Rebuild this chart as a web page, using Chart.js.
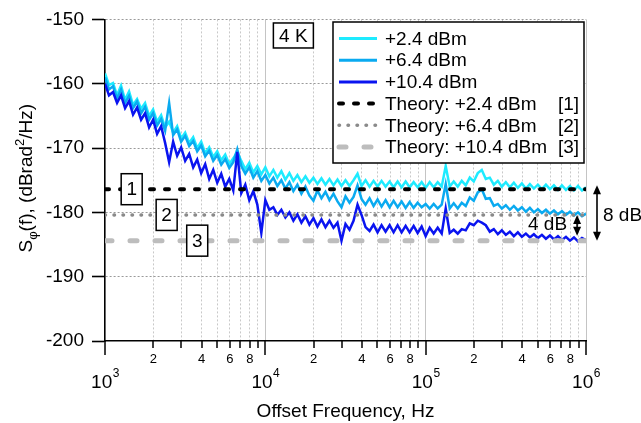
<!DOCTYPE html>
<html>
<head>
<meta charset="utf-8">
<script src="https://cdn.jsdelivr.net/npm/chart.js"></script>
<style>
html,body{margin:0;padding:0;background:#fff;}
canvas{display:block;}
</style>
</head>
<body>
<canvas id="c" width="641" height="423"></canvas>
<script>
const FONT = '"Liberation Sans", Arial, Helvetica, sans-serif';

// ---- data ----
const freqHz = [
  1000, 1059, 1122, 1189, 1259, 1334, 1413, 1496, 1585, 1679, 1778, 1884, 1995, 2113, 2239, 2371, 2512, 2661, 2818, 2985,
  3162, 3350, 3548, 3758, 3981, 4217, 4467, 4732, 5012, 5309, 5623, 5957, 6310, 6683, 7079, 7499, 7943, 8414, 8913, 9441,
  10000, 10593, 11220, 11885, 12589, 13335, 14125, 14962, 15849, 16788, 17783, 18836, 19953, 21135, 22387, 23714, 25119, 26607, 28184, 29854,
  31623, 33497, 35481, 37584, 39811, 42170, 44668, 47315, 50119, 53088, 56234, 59566, 63096, 66834, 70795, 74989, 79433, 84140, 89125, 94406,
  100000, 105930, 112200, 118850, 125890, 133350, 141250, 149620, 158490, 167880, 177830, 188360, 199530, 211350, 223870, 237140, 251190, 266070, 281840, 298540,
  316230, 334970, 354810, 375840, 398110, 421700, 446680, 473150, 501190, 530880, 562340, 595660, 630960, 668340, 707950, 749890, 794330, 841400, 891250, 944060,
  1000000
];

const psdP2_4 = [
  -158.4, -160.2, -159.9, -161.8, -160.3, -162.5, -161.2, -163.3, -162.4, -163.9,
  -163.0, -165.0, -164.0, -165.9, -164.9, -166.8, -165.9, -167.6, -166.6, -168.5,
  -167.6, -169.2, -168.3, -170.0, -169.0, -170.8, -169.9, -171.4, -170.5, -171.9,
  -171.0, -172.5, -171.6, -170.6, -172.0, -173.3, -172.3, -173.8, -172.8, -174.1,
  -173.0, -174.4, -173.4, -174.6, -173.6, -174.9, -173.9, -175.1, -174.2, -175.3,
  -174.4, -175.4, -174.6, -175.6, -174.7, -175.7, -174.8, -175.8, -174.9, -175.9,
  -175.0, -175.9, -175.0, -174.0, -175.9, -175.0, -176.0, -175.1, -176.0, -175.1,
  -176.0, -175.2, -176.1, -175.2, -176.1, -175.2, -176.1, -175.3, -176.1, -175.3,
  -176.2, -175.3, -176.1, -175.3, -176.0, -172.8, -176.0, -175.2, -176.0, -175.1,
  -175.8, -174.6, -175.2, -173.9, -173.4, -174.8, -174.6, -175.7, -175.1, -176.0,
  -175.3, -176.1, -175.4, -176.2, -175.5, -176.3, -175.6, -176.3, -175.7, -176.4,
  -175.7, -176.4, -175.8, -176.5, -175.8, -176.5, -175.9, -176.6, -175.9, -176.6, -176.1
];

const psdP6_4 = [
  -159.0, -160.9, -160.4, -162.3, -160.9, -163.0, -161.9, -163.8, -162.8, -164.6,
  -163.6, -165.6, -164.6, -166.5, -165.5, -167.3, -163.0, -168.0, -167.1, -169.0,
  -168.1, -169.7, -168.9, -170.5, -169.6, -171.3, -170.4, -172.0, -171.1, -172.6,
  -171.7, -173.1, -172.2, -170.2, -172.8, -174.0, -173.0, -174.6, -173.6, -175.1,
  -174.2, -175.5, -174.6, -175.9, -175.0, -176.3, -175.3, -176.7, -175.7, -177.1,
  -176.0, -177.4, -178.2, -176.6, -177.8, -176.8, -178.1, -177.1, -178.3, -179.2,
  -177.5, -178.5, -177.6, -175.8, -177.9, -178.8, -177.8, -179.0, -178.0, -179.1,
  -178.1, -179.2, -178.2, -179.2, -178.3, -179.3, -178.4, -179.3, -178.5, -179.2,
  -178.7, -179.4, -178.7, -179.4, -178.8, -175.6, -179.4, -178.6, -179.4, -178.5,
  -179.0, -177.7, -178.2, -176.9, -176.4, -177.9, -177.8, -179.0, -178.7, -179.4,
  -178.9, -179.6, -179.0, -179.7, -179.2, -179.9, -179.3, -180.0, -179.5, -180.1,
  -179.6, -180.2, -179.7, -180.3, -179.8, -180.4, -179.9, -180.5, -180.0, -180.6, -180.2
];

const psdP10_4 = [
  -160.0, -161.8, -161.3, -163.0, -161.8, -163.8, -162.7, -164.8, -163.7, -165.6,
  -164.6, -166.8, -165.6, -167.8, -166.6, -169.2, -172.2, -169.0, -171.2, -169.9,
  -172.0, -170.9, -173.0, -171.8, -173.9, -172.5, -174.8, -173.4, -175.4, -174.0,
  -176.0, -174.8, -176.6, -170.6, -177.0, -175.7, -178.1, -176.7, -178.8, -183.2,
  -178.1, -179.6, -179.2, -180.4, -179.6, -180.8, -180.0, -181.3, -180.3, -181.6,
  -180.6, -181.9, -180.9, -182.2, -181.1, -182.3, -181.3, -182.4, -181.6, -184.4,
  -181.8, -182.7, -181.3, -178.8, -180.4, -182.3, -182.9, -181.9, -183.1, -182.0,
  -183.0, -182.0, -183.1, -182.0, -183.1, -182.1, -183.1, -182.1, -183.2, -182.2,
  -183.7, -182.4, -183.3, -182.4, -183.3, -179.4, -183.2, -182.7, -183.3, -182.6,
  -182.8, -181.7, -182.0, -181.3, -181.6, -182.0, -183.0, -182.6, -183.4, -182.8,
  -183.5, -183.0, -183.7, -183.1, -183.8, -183.3, -183.9, -183.4, -184.0, -183.5,
  -184.1, -183.6, -184.2, -183.7, -184.3, -183.8, -184.4, -183.9, -184.5, -184.0, -184.3
];

const seriesLabels = ['+2.4 dBm', '+6.4 dBm', '+10.4 dBm'];
const theoryLabels = ['Theory: +2.4 dBm', 'Theory: +6.4 dBm', 'Theory: +10.4 dBm'];
const theoryRefs = ['[1]', '[2]', '[3]'];
const theoryLevels = [-176.4, -180.4, -184.4];
const theoryFreqRange = [1000, 1000000];
const boxTags = ['1', '2', '3'];
const boxFreqHz = [1467, 2424, 3760];
const tempLabel = '4 K';
const tempLabelAt = [14960, -152.5];
const arrowLabels = ['8 dB', '4 dB'];
const arrow4dBFreq = 880000;

const xTickValues = [
  1000, 2000, 3000, 4000, 5000, 6000, 7000, 8000, 9000,
  10000, 20000, 30000, 40000, 50000, 60000, 70000, 80000, 90000,
  100000, 200000, 300000, 400000, 500000, 600000, 700000, 800000, 900000,
  1000000
];
const xDecadeValues = [1000, 10000, 100000, 1000000];
const xDecadeExponents = ['3', '4', '5', '6'];
const xMinorLabelValues = [2000, 4000, 6000, 8000, 20000, 40000, 60000, 80000, 200000, 400000, 600000, 800000];
const xMinorLabelText = ['2', '4', '6', '8', '2', '4', '6', '8', '2', '4', '6', '8'];
const yTickValues = [-200, -190, -180, -170, -160, -150];
const xTitle = 'Offset Frequency, Hz';

// ---- styles ----
const curveColors = ['#1EEBFF', '#0AAAF0', '#0A14F0'];
const pts = arr => freqHz.map((f, i) => ({ x: f, y: arr[i] }));
const flat = lvl => theoryFreqRange.map(f => ({ x: f, y: lvl }));

const datasets = [
  { label: seriesLabels[0], data: pts(psdP2_4), borderColor: curveColors[0], borderWidth: 2.5, order: 3 },
  { label: seriesLabels[1], data: pts(psdP6_4), borderColor: curveColors[1], borderWidth: 2.5, order: 2 },
  { label: seriesLabels[2], data: pts(psdP10_4), borderColor: curveColors[2], borderWidth: 2.5, order: 1 },
  { label: theoryLabels[0], data: flat(theoryLevels[0]), borderColor: '#000000', borderWidth: 4, borderDash: [4, 11], borderCapStyle: 'round', order: 0 },
  { label: theoryLabels[1], data: flat(theoryLevels[1]), borderColor: '#8a8a8a', borderWidth: 3.5, borderDash: [0.5, 8.5], borderCapStyle: 'round', order: 0 },
  { label: theoryLabels[2], data: flat(theoryLevels[2]), borderColor: '#bdbdbd', borderWidth: 5, borderDash: [7, 18], borderCapStyle: 'round', order: 0 }
];
datasets.forEach(d => { d.pointRadius = 0; d.tension = 0; d.fill = false; });

function vArrow(ctx, x, y1, y2) {
  const h = 9, w = 4;
  ctx.beginPath(); ctx.moveTo(x, y1 + h - 1); ctx.lineTo(x, y2 - h + 1); ctx.stroke();
  ctx.beginPath(); ctx.moveTo(x, y1); ctx.lineTo(x - w, y1 + h); ctx.lineTo(x + w, y1 + h); ctx.closePath(); ctx.fill();
  ctx.beginPath(); ctx.moveTo(x, y2); ctx.lineTo(x - w, y2 - h); ctx.lineTo(x + w, y2 - h); ctx.closePath(); ctx.fill();
}

const overlay = {
  id: 'overlay',
  afterDraw(chart) {
    const ctx = chart.ctx, xs = chart.scales.x, ys = chart.scales.y, a = chart.chartArea;
    ctx.save();
    ctx.fillStyle = '#000'; ctx.strokeStyle = '#000';

    // x ticks
    ctx.lineWidth = 1.5;
    xTickValues.forEach(v => {
      const px = Math.round(xs.getPixelForValue(v));
      const major = xDecadeValues.includes(v);
      ctx.beginPath(); ctx.moveTo(px, a.bottom); ctx.lineTo(px, a.bottom + (major ? 14 : 7)); ctx.stroke();
    });
    ctx.textAlign = 'center'; ctx.textBaseline = 'alphabetic';
    ctx.font = '13px ' + FONT;
    xMinorLabelValues.forEach((v, i) => ctx.fillText(xMinorLabelText[i], xs.getPixelForValue(v), a.bottom + 22));
    ctx.textAlign = 'left';
    xDecadeValues.forEach((v, i) => {
      const px = xs.getPixelForValue(v);
      ctx.font = '19px ' + FONT; const w1 = ctx.measureText('10').width;
      ctx.font = '12px ' + FONT; const w2 = ctx.measureText(xDecadeExponents[i]).width;
      const x0 = px - (w1 + w2) / 2;
      ctx.font = '19px ' + FONT; ctx.fillText('10', x0, a.bottom + 47);
      ctx.font = '12px ' + FONT; ctx.fillText(xDecadeExponents[i], x0 + w1 + 0.5, a.bottom + 36);
    });

    // x title
    ctx.textAlign = 'center';
    ctx.font = '19px ' + FONT;
    ctx.fillText(xTitle, (a.left + a.right) / 2, a.bottom + 76);

    // y title (rotated, with sub/superscript)
    const parts = [
      { t: 'S', s: 19, dy: 0 }, { t: 'φ', s: 13, dy: 5 }, { t: '(f), (dBrad', s: 19, dy: 0 },
      { t: '2', s: 13, dy: -8 }, { t: '/Hz)', s: 19, dy: 0 }
    ];
    let tot = 0;
    parts.forEach(p => { ctx.font = p.s + 'px ' + FONT; p.w = ctx.measureText(p.t).width; tot += p.w; });
    ctx.save();
    ctx.translate(32, (a.top + a.bottom) / 2 - 2);
    ctx.rotate(-Math.PI / 2);
    ctx.textAlign = 'left';
    let u = -tot / 2;
    parts.forEach(p => { ctx.font = p.s + 'px ' + FONT; ctx.fillText(p.t, u, p.dy); u += p.w; });
    ctx.restore();

    // numbered boxes on the theory lines
    ctx.font = '19px ' + FONT; ctx.textAlign = 'center'; ctx.textBaseline = 'middle';
    boxTags.forEach((t, i) => {
      const cx = xs.getPixelForValue(boxFreqHz[i]), cy = ys.getPixelForValue(theoryLevels[i]);
      const bw = 21, bh = 31;
      ctx.fillStyle = '#fff'; ctx.fillRect(cx - bw / 2, cy - bh / 2, bw, bh);
      ctx.lineWidth = 1.5; ctx.strokeStyle = '#000'; ctx.strokeRect(cx - bw / 2, cy - bh / 2, bw, bh);
      ctx.fillStyle = '#000'; ctx.fillText(t, cx, cy + 1);
    });

    // 4 K box
    {
      const cx = xs.getPixelForValue(tempLabelAt[0]), cy = ys.getPixelForValue(tempLabelAt[1]);
      const bw = 40, bh = 25;
      ctx.fillStyle = '#fff'; ctx.fillRect(cx - bw / 2, cy - bh / 2, bw, bh);
      ctx.lineWidth = 1.5; ctx.strokeRect(cx - bw / 2, cy - bh / 2, bw, bh);
      ctx.fillStyle = '#000'; ctx.fillText(tempLabel, cx, cy + 1);
    }

    // legend
    {
      const lx = 333, ly = 22, lw = 251, lh = 141;
      ctx.fillStyle = '#fff'; ctx.fillRect(lx, ly, lw, lh);
      ctx.lineWidth = 1.5; ctx.strokeStyle = '#000'; ctx.strokeRect(lx, ly, lw, lh);
      const ds = chart.data.datasets;
      const labels = seriesLabels.concat(theoryLabels);
      labels.forEach((lab, k) => {
        const y = ly + 16.5 + k * 21.7;
        const d = ds[k];
        ctx.save();
        ctx.strokeStyle = d.borderColor;
        ctx.lineWidth = k < 3 ? 3 : d.borderWidth;
        ctx.lineCap = d.borderCapStyle || 'butt';
        ctx.setLineDash(d.borderDash || []);
        ctx.beginPath(); ctx.moveTo(lx + 6, y); ctx.lineTo(lx + 44, y); ctx.stroke();
        ctx.restore();
        ctx.fillStyle = '#000'; ctx.font = '19px ' + FONT; ctx.textBaseline = 'middle';
        ctx.textAlign = 'left'; ctx.fillText(lab, lx + 52, y + 1);
        if (k >= 3) { ctx.textAlign = 'right'; ctx.fillText(theoryRefs[k - 3], lx + lw - 5, y + 1); }
      });
    }

    // arrows
    ctx.fillStyle = '#000'; ctx.strokeStyle = '#000'; ctx.lineWidth = 1.6; ctx.setLineDash([]);
    const y1 = ys.getPixelForValue(theoryLevels[0]), y2 = ys.getPixelForValue(theoryLevels[1]), y3 = ys.getPixelForValue(theoryLevels[2]);
    const ax8 = a.right + 11;
    vArrow(ctx, ax8, y1 - 4, y3);
    ctx.font = '19px ' + FONT; ctx.textAlign = 'left'; ctx.textBaseline = 'middle';
    ctx.fillText(arrowLabels[0], ax8 + 6, (y1 + y3) / 2 + 1);
    const ax4 = xs.getPixelForValue(arrow4dBFreq);
    vArrow(ctx, ax4, y2, y3 - 5);
    ctx.textAlign = 'right';
    ctx.fillText(arrowLabels[1], ax4 - 10, (y2 + y3) / 2 - 3);
    ctx.restore();
  }
};

new Chart(document.getElementById('c').getContext('2d'), {
  type: 'line',
  data: { datasets },
  options: {
    responsive: false, animation: false, devicePixelRatio: 1,
    layout: { padding: { left: 0, right: 55, top: 19, bottom: 0 } },
    plugins: { legend: { display: false }, tooltip: { enabled: false } },
    scales: {
      x: {
        type: 'logarithmic', min: 1000, max: 1000000,
        afterBuildTicks: s => { s.ticks = xTickValues.map(v => ({ value: v })); },
        afterFit: s => { s.height = 82; },
        ticks: { display: false },
        grid: {
          drawTicks: false, lineWidth: 1,
          color: c => (c.tick && c.tick.value === 1000) ? 'rgba(0,0,0,0)' :
                      (c.tick && xDecadeValues.includes(c.tick.value) ? '#c4c4c4' : '#c8c8c8')
        },
        border: { display: true, color: '#000', width: 1.6,
          dash: c => (c.tick && xDecadeValues.includes(c.tick.value)) ? [] : [2, 2] }
      },
      y: {
        type: 'linear', min: -200, max: -150,
        afterBuildTicks: s => { s.ticks = yTickValues.map(v => ({ value: v })); },
        afterFit: s => { s.width = 105; },
        ticks: { color: '#000', font: { family: FONT, size: 19 }, padding: 8 },
        grid: {
          lineWidth: 1, tickLength: 13, tickWidth: 1.6, tickColor: '#000', tickBorderDash: [],
          color: c => (c.tick && c.tick.value === -200) ? 'rgba(0,0,0,0)' : '#9a9a9a'
        },
        border: { display: true, color: '#000', width: 1.6, dash: [2, 2] }
      }
    }
  },
  plugins: [overlay]
});
</script>
</body>
</html>
